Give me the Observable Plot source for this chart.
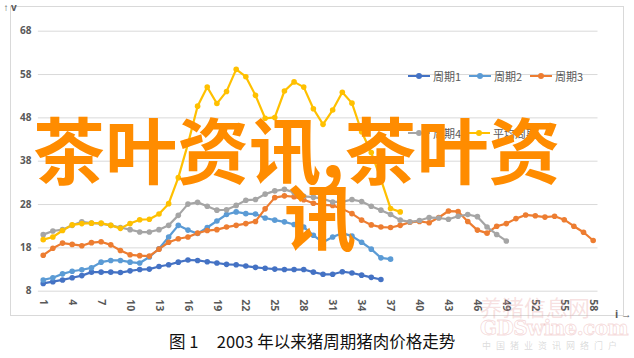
<!DOCTYPE html>
<html>
<head>
<meta charset="utf-8">
<script src="https://cdn.jsdelivr.net/npm/d3@7"></script>
<script src="https://cdn.jsdelivr.net/npm/@observablehq/plot@0.6"></script>
<style>
  html, body { margin: 0; padding: 0; background: #fff; }
  body { width: 634px; height: 358px; overflow: hidden; position: relative;
         font-family: "Noto Sans CJK SC", "Noto Sans", sans-serif; }
  #frame { position: absolute; left: 10px; top: 6px; width: 614px; height: 310px;
           border: 1px solid #d9d9d9; box-sizing: border-box; }
  #chart { position: absolute; left: 0; top: 0; }
  .leg { position: absolute; font-size: 11px; color: #595959; line-height: 14px; white-space: nowrap; }
  .leg .sw { display: inline-block; position: relative; width: 22px; height: 14px; vertical-align: top; margin-right: 3px; }
  .leg .sw i { position: absolute; left: 0; right: 0; top: 6px; height: 2.3px; }
  .leg .sw b { position: absolute; left: 8px; top: 4px; width: 6px; height: 6px; border-radius: 50%; }
  #title { position: absolute; left: 169px; top: 330px; font-size: 16.5px; color: #111; white-space: pre; line-height: 22px; }
  .wm { position: absolute; color: #ff8c00; font-weight: bold; font-size: 72px; line-height: 72px; white-space: nowrap;
        font-family: "Noto Sans CJK SC", sans-serif; }
  .wm2 { position: absolute; white-space: nowrap; }
</style>
</head>
<body>
<div id="frame"></div>
<div id="chart"></div>
<div id="legend"></div>
<div id="title">图 1     2003 年以来猪周期猪肉价格走势</div>
<div class="wm2" style="left:480px;top:293px;font-size:22px;line-height:26px;color:rgba(230,160,160,0.32);">养猪信息网</div>
<div class="wm2" style="left:480px;top:316px;font-size:20px;line-height:24px;font-family:'DejaVu Serif',serif;font-weight:bold;color:rgba(255,255,255,0);-webkit-text-stroke:0.8px rgba(230,160,160,0.4);letter-spacing:-0.6px;">GDSwine.com</div>
<div class="wm2" style="left:482px;top:340px;font-size:9px;line-height:12px;color:rgba(150,150,150,0.35);letter-spacing:5px;">中国猪业资讯网络门户</div>
<div class="wm" style="left:33px;top:111px;">茶叶资讯,茶叶资</div>
<div class="wm" style="left:284px;top:178px;">讯</div>
<script>
// ---- data ----
const seriesNames = ["周期1", "周期2", "周期3", "周期4", "平均周期"];
const seriesColors = ["#4472c4", "#5b9bd5", "#ed7d31", "#a5a5a5", "#ffc000"];

const period1 = [9.8, 10.2, 10.6, 11.1, 11.6, 12.4, 12.4, 12.4, 12.3, 12.7, 13.0, 13.1, 13.7, 14.1, 14.7, 15.2,
  15.1, 14.8, 14.5, 14.2, 14.1, 13.8, 13.5, 13.3, 13.1, 13.0, 13.0, 13.0, 12.4, 11.9, 11.9, 12.5, 12.2, 11.7, 11.2, 10.7];
const period2 = [10.6, 11.1, 12.0, 12.6, 12.95, 13.4, 14.7, 15.1, 15.1, 14.7, 14.5, 15.9, 17.8, 20.5, 23.2, 22.1,
  21.3, 22.7, 24.2, 25.7, 26.3, 25.9, 25.8, 24.9, 24.4, 24.0, 23.4, 22.8, 20.9, 19.3, 20.5, 21.4, 20.7, 19.3, 17.7, 15.7, 15.4];
const period3 = [16.3, 17.9, 19.1, 18.8, 18.5, 19.2, 19.4, 18.7, 17.4, 16.4, 16.2, 16.1, 17.7, 19.3, 20.1, 20.5,
  21.4, 22.0, 22.2, 22.8, 23.2, 23.6, 24.1, 27.0, 29.6, 30.0, 29.8, 29.1, 28.3, 27.9, 27.8, 27.0, 25.9, 24.4, 23.3, 22.8,
  22.7, 23.2, 23.9, 24.1, 23.8, 25.0, 26.5, 26.4, 24.1, 22.1, 21.4, 23.0, 23.6, 24.75, 25.6, 25.4, 25.1, 25.3, 24.5, 23.0, 21.6, 19.7];
const period4 = [21.05, 21.9, 22.2, 23.2, 24.0, 23.7, 23.6, 23.2, 22.7, 22.2, 21.65, 21.65, 22.2, 23.2, 25.5, 28.1,
  28.5, 27.6, 26.7, 26.8, 27.8, 29.0, 29.15, 30.4, 31.15, 31.5, 30.8, 29.9, 29.7, 29.3, 28.6, 28.6, 29.15, 28.7, 27.6, 26.7,
  25.7, 24.4, 24.0, 24.3, 25.0, 24.9, 24.6, 25.3, 25.7, 25.2, 22.8, 21.1, 19.6];
const avgPeriod = [19.9, 20.5, 22.0, 23.3, 23.6, 23.7, 23.7, 23.2, 22.5, 23.6, 24.5, 24.6, 25.8, 28.2, 34.2, 42.0,
  50.7, 55.1, 51.3, 54.1, 59.2, 57.5, 53.2, 47.9, 48.1, 54.2, 56.3, 55.1, 50.1, 46.5, 49.8, 53.9, 51.4, 44.8, 40.0, 33.8, 27.1, 26.3];

const yTicks = [8, 18, 28, 38, 48, 58, 68];
const xTicks = [1, 4, 7, 10, 13, 16, 19, 22, 25, 28, 31, 34, 37, 40, 43, 46, 49, 52, 55, 58];

const allSeries = [period1, period2, period3, period4, avgPeriod];
const rows = allSeries.flatMap((vals, k) => vals.map((v, j) => ({ name: seriesNames[k], i: j + 1, v })));

const font = "'Open Sans', 'Liberation Sans', sans-serif";
const chart = Plot.plot({
  width: 634,
  height: 320,
  marginLeft: 37.9,
  marginRight: 36.5,
  marginTop: 30.7,
  marginBottom: 29.3,
  style: { background: "transparent", fontFamily: font },
  x: { domain: [0.5, 58.5], axis: null },
  y: { domain: [8, 68], axis: null },
  color: { domain: seriesNames, range: seriesColors },
  marks: [
    Plot.ruleY(yTicks, { stroke: "#d9d9d9", strokeWidth: 1 }),
    Plot.axisY({ ticks: yTicks, tickSize: 0, tickPadding: 7, fontSize: 10, fontWeight: "bold", color: "#595959" }),
    Plot.axisX({ ticks: xTicks, tickSize: 0, tickPadding: 8, tickRotate: 90, fontSize: 10.5, fontWeight: "bold", color: "#595959" }),
    Plot.line(rows, { x: "i", y: "v", z: "name", stroke: "name", strokeWidth: 2.2 }),
    Plot.dot(rows, { x: "i", y: "v", fill: "name", r: 2.8, stroke: "none" })
  ]
});
document.getElementById("chart").appendChild(chart);

// legend
const legPos = [[408, 69], [469, 69], [530, 69], [408, 126], [468, 126]];
const legend = document.getElementById("legend");
seriesNames.forEach((n, k) => {
  const d = document.createElement("div");
  d.className = "leg";
  d.style.left = legPos[k][0] + "px";
  d.style.top = legPos[k][1] + "px";
  d.innerHTML = `<span class="sw"><i style="background:${seriesColors[k]}"></i><b style="background:${seriesColors[k]}"></b></span>${n}`;
  legend.appendChild(d);
});
</script>
</body>
</html>
